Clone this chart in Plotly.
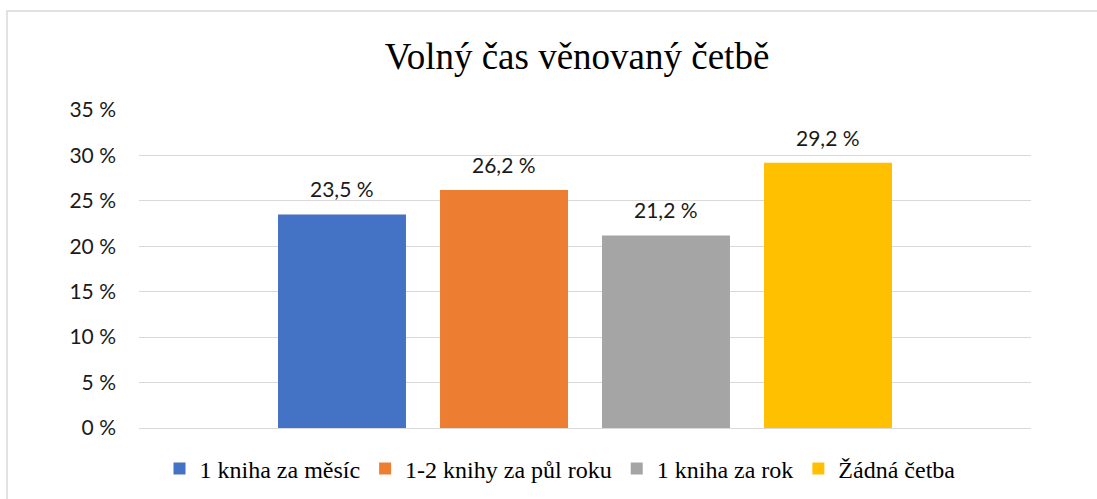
import plotly.graph_objects as go

categories = ["1 kniha za měsíc", "1-2 knihy za půl roku", "1 kniha za rok", "Žádná četba"]
values = [23.5, 26.2, 21.2, 29.2]
colors = ["#4472C4", "#ED7D31", "#A5A5A5", "#FFC000"]
tick_vals = [0, 5, 10, 15, 20, 25, 30, 35]
tick_text = ["0 %", "5 %", "10 %", "15 %", "20 %", "25 %", "30 %", "35 %"]
title_text = "Volný čas věnovaný četbě"

W, H = 1097, 499
ml, mr, mt, mb = 139, 66, 110, 71
pw = W - ml - mr
ph = H - mt - mb

fig = go.Figure()
for name, val, col in zip(categories, values, colors):
    fig.add_trace(go.Bar(
        x=[name], y=[val], name=name, marker=dict(color=col, line=dict(width=0)),
        width=0.79, hoverinfo="skip",
    ))

def fmt(v):
    return f"{v:.1f}".replace(".", ",") + " %"

annotations = []
for name, val in zip(categories, values):
    annotations.append(dict(
        x=name, y=val, xref="x", yref="y", text=fmt(val), showarrow=False,
        yanchor="bottom", yshift=11,
        font=dict(family="Lato, 'Noto Sans', sans-serif", size=21, color="#1a1a1a"),
    ))

def px_x(p):
    return (p - ml) / pw

def px_y(p):
    return (H - mb - p) / ph

fig.update_layout(
    width=W, height=H,
    margin=dict(l=ml, r=mr, t=mt, b=mb, autoexpand=False),
    paper_bgcolor="white", plot_bgcolor="white",
    barmode="overlay",
    showlegend=True,
    title=dict(
        text=title_text, x=577 / W, xanchor="center", y=1 - 56 / H, yanchor="middle",
        xref="container", yref="container",
        font=dict(family="'Liberation Serif', 'Times New Roman', serif", size=37, color="#000000"),
    ),
    legend=dict(
        orientation="h", x=px_x(560), xanchor="center",
        y=1 - 469 / H, yref="container", yanchor="middle",
        font=dict(family="'Liberation Serif', 'Times New Roman', serif", size=24, color="#000000"),
        bgcolor="rgba(0,0,0,0)",
    ),
    xaxis=dict(
        type="category", categoryorder="array", categoryarray=categories,
        range=[-1.253, 4.253], showticklabels=False, showgrid=False,
        showline=False, zeroline=False, ticks="",
    ),
    yaxis=dict(
        range=[0, 35], tickvals=tick_vals, ticktext=tick_text,
        showgrid=True, gridcolor="#d9d9d9", gridwidth=1,
        zeroline=True, zerolinecolor="#d9d9d9", zerolinewidth=1,
        showline=False, ticks="", ticklabelstandoff=22,
        tickfont=dict(family="Lato, 'Noto Sans', sans-serif", size=21, color="#1a1a1a"),
    ),
    annotations=annotations,
    shapes=[dict(
        type="rect", xref="paper", yref="paper",
        x0=px_x(7), x1=px_x(1110), y0=px_y(515), y1=px_y(11),
        line=dict(color="#d9d9d9", width=1.5), fillcolor="rgba(0,0,0,0)", layer="below",
    )],
)

fig.write_html("out.html", config={"displayModeBar": False},
               post_script="document.body.style.margin='0';")
